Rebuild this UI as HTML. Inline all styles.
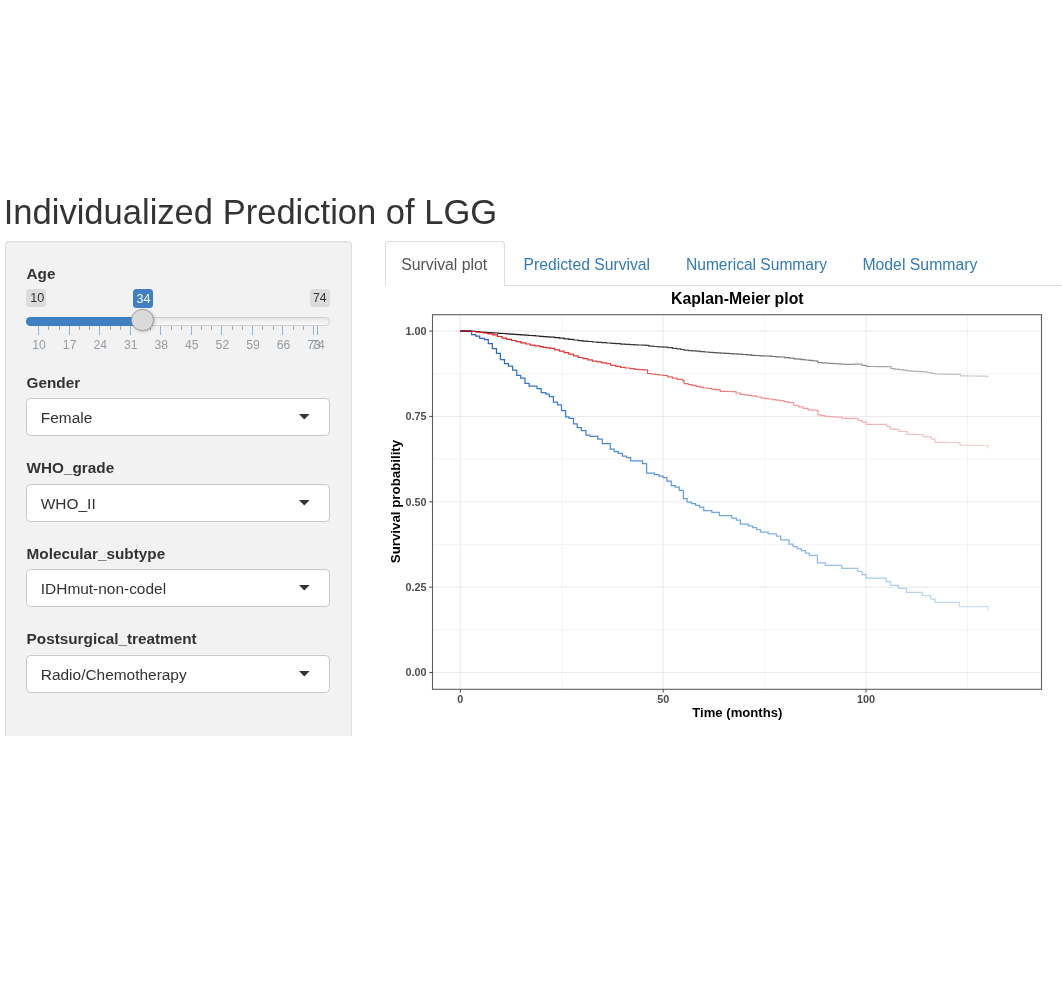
<!DOCTYPE html>
<html><head><meta charset="utf-8"><title>Individualized Prediction of LGG</title>
<style>
html,body{margin:0;padding:0;background:#fff;width:1062px;height:986px;overflow:hidden;position:relative}
body{will-change:transform;font-family:'Liberation Sans',sans-serif;}
div{font-family:'Liberation Sans',sans-serif;}
</style></head><body>
<div style="position:absolute;left:3.70px;top:194.65px;font-size:34.55px;line-height:34.55px;color:#333;font-weight:normal;white-space:nowrap;">Individualized Prediction of LGG</div>
<div style="position:absolute;left:5px;top:241px;width:345px;height:494px;background:#f2f2f2;border:1px solid #e0e0e0;border-bottom:none;border-radius:4px 4px 0 0;box-shadow:inset 0 1px 1px rgba(0,0,0,.05)"></div>
<div style="position:absolute;left:26.50px;top:265.75px;font-size:15.3px;line-height:15.3px;color:#333;font-weight:bold;white-space:nowrap;">Age</div>
<div style="position:absolute;left:26.60px;top:374.95px;font-size:15.3px;line-height:15.3px;color:#333;font-weight:bold;white-space:nowrap;">Gender</div>
<div style="position:absolute;left:26.3px;top:398.1px;width:301.3px;height:35.6px;background:#fff;border:1px solid #c8c8c8;border-radius:4.5px"></div>
<div style="position:absolute;left:40.80px;top:409.82px;font-size:15.45px;line-height:15.45px;color:#333;font-weight:normal;white-space:nowrap;">Female</div>
<svg style="position:absolute;left:299px;top:413.7px" width="11" height="6"><path d="M0 0H10.6L5.3 5.5Z" fill="#333"/></svg>
<div style="position:absolute;left:26.60px;top:459.65px;font-size:15.3px;line-height:15.3px;color:#333;font-weight:bold;white-space:nowrap;">WHO_grade</div>
<div style="position:absolute;left:26.3px;top:484.0px;width:301.3px;height:35.6px;background:#fff;border:1px solid #c8c8c8;border-radius:4.5px"></div>
<div style="position:absolute;left:40.80px;top:495.72px;font-size:15.45px;line-height:15.45px;color:#333;font-weight:normal;white-space:nowrap;">WHO_II</div>
<svg style="position:absolute;left:299px;top:499.6px" width="11" height="6"><path d="M0 0H10.6L5.3 5.5Z" fill="#333"/></svg>
<div style="position:absolute;left:26.60px;top:546.25px;font-size:15.3px;line-height:15.3px;color:#333;font-weight:bold;white-space:nowrap;">Molecular_subtype</div>
<div style="position:absolute;left:26.3px;top:569.4px;width:301.3px;height:35.6px;background:#fff;border:1px solid #c8c8c8;border-radius:4.5px"></div>
<div style="position:absolute;left:40.80px;top:581.12px;font-size:15.45px;line-height:15.45px;color:#333;font-weight:normal;white-space:nowrap;">IDHmut-non-codel</div>
<svg style="position:absolute;left:299px;top:585.0px" width="11" height="6"><path d="M0 0H10.6L5.3 5.5Z" fill="#333"/></svg>
<div style="position:absolute;left:26.60px;top:630.95px;font-size:15.3px;line-height:15.3px;color:#333;font-weight:bold;white-space:nowrap;">Postsurgical_treatment</div>
<div style="position:absolute;left:26.3px;top:655.1px;width:301.3px;height:35.6px;background:#fff;border:1px solid #c8c8c8;border-radius:4.5px"></div>
<div style="position:absolute;left:40.80px;top:666.82px;font-size:15.45px;line-height:15.45px;color:#333;font-weight:normal;white-space:nowrap;">Radio/Chemotherapy</div>
<svg style="position:absolute;left:299px;top:670.7px" width="11" height="6"><path d="M0 0H10.6L5.3 5.5Z" fill="#333"/></svg>
<div style="position:absolute;left:26.2px;top:288.9px;width:19.8px;height:17.9px;background:#dcdcdc;border-radius:3.5px"></div>
<div style="position:absolute;left:30.30px;top:291.93px;font-size:12.6px;line-height:12.6px;color:#333;font-weight:normal;white-space:nowrap;">10</div>

<div style="position:absolute;left:309.9px;top:288.9px;width:19.9px;height:17.9px;background:#dcdcdc;border-radius:3.5px"></div>
<div style="position:absolute;left:313.00px;top:292.27px;font-size:12.2px;line-height:12.2px;color:#333;font-weight:normal;white-space:nowrap;">74</div>

<div style="position:absolute;left:25.7px;top:317px;width:302px;height:7px;background:linear-gradient(#e6e6e6,#fafafa);border:1px solid #cfcfcf;border-radius:5px"></div>
<div style="position:absolute;left:25.7px;top:317px;width:120px;height:9px;background:#3f7fc2;border-radius:5px 0 0 5px"></div>
<div style="position:absolute;left:38px;top:326px;width:1px;height:9px;background:#8fb3dc"></div>
<div style="position:absolute;left:19.10px;top:339.27px;width:40px;text-align:center;font-size:12.2px;line-height:12.2px;color:#939ca4">10</div>
<div style="position:absolute;left:48px;top:326px;width:1px;height:4.4px;background:#a9a9a9"></div>
<div style="position:absolute;left:59px;top:326px;width:1px;height:4.4px;background:#a9a9a9"></div>
<div style="position:absolute;left:69px;top:326px;width:1px;height:9px;background:#8fb3dc"></div>
<div style="position:absolute;left:49.65px;top:339.27px;width:40px;text-align:center;font-size:12.2px;line-height:12.2px;color:#939ca4">17</div>
<div style="position:absolute;left:79px;top:326px;width:1px;height:4.4px;background:#a9a9a9"></div>
<div style="position:absolute;left:89px;top:326px;width:1px;height:4.4px;background:#a9a9a9"></div>
<div style="position:absolute;left:99px;top:326px;width:1px;height:9px;background:#8fb3dc"></div>
<div style="position:absolute;left:80.20px;top:339.27px;width:40px;text-align:center;font-size:12.2px;line-height:12.2px;color:#939ca4">24</div>
<div style="position:absolute;left:110px;top:326px;width:1px;height:4.4px;background:#a9a9a9"></div>
<div style="position:absolute;left:120px;top:326px;width:1px;height:4.4px;background:#a9a9a9"></div>
<div style="position:absolute;left:130px;top:326px;width:1px;height:9px;background:#8fb3dc"></div>
<div style="position:absolute;left:110.75px;top:339.27px;width:40px;text-align:center;font-size:12.2px;line-height:12.2px;color:#939ca4">31</div>
<div style="position:absolute;left:140px;top:326px;width:1px;height:4.4px;background:#a9a9a9"></div>
<div style="position:absolute;left:150px;top:326px;width:1px;height:4.4px;background:#a9a9a9"></div>
<div style="position:absolute;left:160px;top:326px;width:1px;height:9px;background:#8fb3dc"></div>
<div style="position:absolute;left:141.30px;top:339.27px;width:40px;text-align:center;font-size:12.2px;line-height:12.2px;color:#939ca4">38</div>
<div style="position:absolute;left:171px;top:326px;width:1px;height:4.4px;background:#a9a9a9"></div>
<div style="position:absolute;left:181px;top:326px;width:1px;height:4.4px;background:#a9a9a9"></div>
<div style="position:absolute;left:191px;top:326px;width:1px;height:9px;background:#8fb3dc"></div>
<div style="position:absolute;left:171.85px;top:339.27px;width:40px;text-align:center;font-size:12.2px;line-height:12.2px;color:#939ca4">45</div>
<div style="position:absolute;left:201px;top:326px;width:1px;height:4.4px;background:#a9a9a9"></div>
<div style="position:absolute;left:211px;top:326px;width:1px;height:4.4px;background:#a9a9a9"></div>
<div style="position:absolute;left:221px;top:326px;width:1px;height:9px;background:#8fb3dc"></div>
<div style="position:absolute;left:202.40px;top:339.27px;width:40px;text-align:center;font-size:12.2px;line-height:12.2px;color:#939ca4">52</div>
<div style="position:absolute;left:232px;top:326px;width:1px;height:4.4px;background:#a9a9a9"></div>
<div style="position:absolute;left:242px;top:326px;width:1px;height:4.4px;background:#a9a9a9"></div>
<div style="position:absolute;left:252px;top:326px;width:1px;height:9px;background:#8fb3dc"></div>
<div style="position:absolute;left:232.95px;top:339.27px;width:40px;text-align:center;font-size:12.2px;line-height:12.2px;color:#939ca4">59</div>
<div style="position:absolute;left:262px;top:326px;width:1px;height:4.4px;background:#a9a9a9"></div>
<div style="position:absolute;left:273px;top:326px;width:1px;height:4.4px;background:#a9a9a9"></div>
<div style="position:absolute;left:282px;top:326px;width:1px;height:9px;background:#8fb3dc"></div>
<div style="position:absolute;left:263.50px;top:339.27px;width:40px;text-align:center;font-size:12.2px;line-height:12.2px;color:#939ca4">66</div>
<div style="position:absolute;left:293px;top:326px;width:1px;height:4.4px;background:#a9a9a9"></div>
<div style="position:absolute;left:303px;top:326px;width:1px;height:4.4px;background:#a9a9a9"></div>
<div style="position:absolute;left:313px;top:326px;width:1px;height:9px;background:#8fb3dc"></div>
<div style="position:absolute;left:294.05px;top:339.27px;width:40px;text-align:center;font-size:12.2px;line-height:12.2px;color:#939ca4">73</div>
<div style="position:absolute;left:317px;top:326px;width:1px;height:9px;background:#8fb3dc"></div>
<div style="position:absolute;left:298.00px;top:339.27px;width:40px;text-align:center;font-size:12.2px;line-height:12.2px;color:#939ca4">74</div>
<div style="position:absolute;left:132.9px;top:288.8px;width:20.1px;height:19px;background:#3f7fc2;border-radius:3.5px"></div>
<div style="position:absolute;left:136.50px;top:292.63px;font-size:12.6px;line-height:12.6px;color:#fff;font-weight:normal;white-space:nowrap;">34</div>

<div style="position:absolute;left:131.3px;top:308.6px;width:20.9px;height:20.9px;background:#dadada;border:1px solid #a0a0a0;border-radius:50%;box-shadow:1px 1px 3px rgba(0,0,0,.2)"></div>
<div style="position:absolute;left:385px;top:285px;width:677px;height:1px;background:#ddd"></div>
<div style="position:absolute;left:385px;top:241px;width:118px;height:44px;background:#fff;border:1px solid #ddd;border-bottom:none;border-radius:4px 4px 0 0"></div>
<div style="position:absolute;left:401.20px;top:256.53px;font-size:15.8px;line-height:15.8px;color:#555;font-weight:normal;white-space:nowrap;">Survival plot</div>
<div style="position:absolute;left:523.60px;top:256.61px;font-size:15.7px;line-height:15.7px;color:#337ab7;font-weight:normal;white-space:nowrap;">Predicted Survival</div>
<div style="position:absolute;left:686.00px;top:256.72px;font-size:15.57px;line-height:15.57px;color:#337ab7;font-weight:normal;white-space:nowrap;">Numerical Summary</div>
<div style="position:absolute;left:862.40px;top:256.53px;font-size:15.8px;line-height:15.8px;color:#337ab7;font-weight:normal;white-space:nowrap;">Model Summary</div>
<svg style="position:absolute;left:0;top:0" width="1062" height="986">
<defs>
<linearGradient id="gk" gradientUnits="userSpaceOnUse" x1="460" y1="0" x2="990" y2="0"><stop offset="0" stop-color="#1a1212"/><stop offset="0.25" stop-color="#352b2b"/><stop offset="0.55" stop-color="#6a6262"/><stop offset="0.8" stop-color="#a8a4a4"/><stop offset="1" stop-color="#d0cece"/></linearGradient>
<linearGradient id="gr" gradientUnits="userSpaceOnUse" x1="460" y1="0" x2="990" y2="0"><stop offset="0" stop-color="#e01818"/><stop offset="0.25" stop-color="#e23a3a"/><stop offset="0.55" stop-color="#ee8e8e"/><stop offset="0.8" stop-color="#f4b6b6"/><stop offset="1" stop-color="#fad4d4"/></linearGradient>
<linearGradient id="gb" gradientUnits="userSpaceOnUse" x1="460" y1="0" x2="990" y2="0"><stop offset="0" stop-color="#1d5fca"/><stop offset="0.3" stop-color="#4e8ed9"/><stop offset="0.6" stop-color="#80b0e6"/><stop offset="0.8" stop-color="#aecbee"/><stop offset="1" stop-color="#d0e2f6"/></linearGradient>
</defs>
<line x1="432.5" x2="1041.5" y1="629.83" y2="629.83" stroke="#ebebeb" stroke-width="0.55"/>
<line x1="432.5" x2="1041.5" y1="544.48" y2="544.48" stroke="#ebebeb" stroke-width="0.55"/>
<line x1="432.5" x2="1041.5" y1="459.12" y2="459.12" stroke="#ebebeb" stroke-width="0.55"/>
<line x1="432.5" x2="1041.5" y1="373.78" y2="373.78" stroke="#ebebeb" stroke-width="0.55"/>
<line y1="314.7" y2="689.3" x1="561.74" x2="561.74" stroke="#ebebeb" stroke-width="0.55"/>
<line y1="314.7" y2="689.3" x1="764.62" x2="764.62" stroke="#ebebeb" stroke-width="0.55"/>
<line y1="314.7" y2="689.3" x1="967.50" x2="967.50" stroke="#ebebeb" stroke-width="0.55"/>
<line x1="432.5" x2="1041.5" y1="672.50" y2="672.50" stroke="#ebebeb" stroke-width="1.1"/>
<line x1="432.5" x2="1041.5" y1="587.15" y2="587.15" stroke="#ebebeb" stroke-width="1.1"/>
<line x1="432.5" x2="1041.5" y1="501.80" y2="501.80" stroke="#ebebeb" stroke-width="1.1"/>
<line x1="432.5" x2="1041.5" y1="416.45" y2="416.45" stroke="#ebebeb" stroke-width="1.1"/>
<line x1="432.5" x2="1041.5" y1="331.10" y2="331.10" stroke="#ebebeb" stroke-width="1.1"/>
<line y1="314.7" y2="689.3" x1="460.30" x2="460.30" stroke="#ebebeb" stroke-width="1.1"/>
<line y1="314.7" y2="689.3" x1="663.18" x2="663.18" stroke="#ebebeb" stroke-width="1.1"/>
<line y1="314.7" y2="689.3" x1="866.06" x2="866.06" stroke="#ebebeb" stroke-width="1.1"/>
<path d="M460.3 331.1H471.6V334.6H475.7V336.0H479.7V338.4H484.6V339.6H488.3V343.5H492.3V348.5H496.5V353.4H500.4V359.7H504.5V363.5H508.5V366.2H512.6V370.0H516.7V375.3H520.7V378.1H525.0V383.3H529.1V386.0H537.0V388.5H541.2V392.7H545.8V394.0H549.3V396.5H553.4V402.2H557.5V404.9H561.5V410.5H565.6V416.8H569.1V418.4H573.5V423.9H577.2V427.7H581.3V430.6H585.9V435.0H590.0V436.4H597.8V439.1H602.3V443.5H610.2V449.0H614.2V451.6H618.3V453.3H622.4V456.1H626.6V457.7H630.6V460.8H642.5V463.5H646.6V473.0H654.5V474.5H659.0V476.0H663.1V477.7H666.9V481.1H671.2V485.6H675.3V487.2H679.3V490.4H683.4V498.6H687.1V502.1H691.5V503.7H695.6V505.4H699.6V507.1H703.7V510.5H711.8V512.3H719.4V515.5H731.7V518.0H736.3V520.1H740.4V524.0H748.3V525.9H752.5V527.7H756.6V529.7H760.6V532.0H768.2V533.8H776.4V536.0H780.7V539.9H789.0V544.1H793.1V546.5H797.2V548.5H801.2V550.7H805.5V553.0H809.3V555.4H817.4V562.8H825.3V565.4H841.7V568.4H857.7V571.4H862.0V574.5H866.1V578.0H886.3V581.6H890.5V585.3H898.5V588.4H906.5V592.3H922.6V595.5H930.7V599.2H935.1V602.4H959.4V606.5H987.8V610.2" fill="none" stroke="url(#gb)" stroke-width="1.25"/>
<path d="M460.3 331.1H464.2V331.2H468.1V331.2H472.0V331.3H475.7V331.6H479.5V332.0H483.2V332.3H487.0V332.5H490.8V332.8H494.5V333.0H498.3V333.3H502.1V333.5H505.9V333.8H509.6V334.1H513.4V334.3H517.1V334.6H520.9V334.9H524.7V335.2H528.4V335.5H532.2V335.7H535.9V336.0H539.7V336.3H543.1V336.6H546.6V336.8H550.0V337.1H554.7V337.7H559.4V338.2H564.1V338.8H568.8V339.4H573.5V340.0H578.2V340.6H582.9V341.1H587.7V341.5H592.4V342.0H597.1V342.3H601.8V342.7H606.5V343.0H611.2V343.4H615.9V343.7H620.6V344.1H625.3V344.3H630.0V344.6H634.7V344.8H638.5V345.0H642.2V345.1H646.0V345.3H648.9V346.2H653.6V346.5H658.3V346.9H663.0V347.2H667.7V347.7H672.4V348.3H677.1V348.8H680.7V349.5H684.2V350.2H688.2V350.6H692.1V350.9H696.0V351.2H700.0V351.6H704.5V352.0H709.1V352.4H712.9V352.6H716.6V352.9H720.4V353.1H724.6V353.4H728.9V353.6H733.1V353.9H737.4V354.1H742.1V354.5H746.8V354.9H751.5V355.3H755.7V355.5H760.0V355.8H764.2V356.0H768.1V356.2H772.0V356.5H775.8V356.8H779.7V357.0H784.4V357.6H789.2V358.2H793.9V358.8H797.7V359.2H801.4V359.6H805.2V360.0H809.0V360.4H812.7V360.8H816.5V361.2H817.9V362.6H821.8V362.8H825.6V363.1H829.5V363.3H833.4V363.6H837.3V363.8H841.1V364.1H845.0V364.3H849.2V364.3H853.3V364.2H857.5V364.2H861.9V365.3H866.3V366.4H870.1V366.5H873.9V366.5H877.7V366.6H881.5V366.6H885.3V366.7H891.1V368.6H894.8V369.1H898.4V369.6H902.8V370.2H907.2V370.8H911.2V371.1H915.2V371.3H919.2V371.6H923.2V371.8H927.1V372.5H931.0V373.3H934.9V374.0H939.0V374.1H943.2V374.1H947.3V374.2H951.4V374.3H955.6V374.3H959.7V374.4H960.4V375.9H964.3V375.9H968.2V376.0H972.1V376.0H976.0V376.1H979.9V376.1H983.8V376.2H987.7V376.2V377.4" fill="none" stroke="url(#gk)" stroke-width="1.2"/>
<path d="M460.3 331.1H464.2V331.2H468.1V331.4H472.0V331.5H475.7V332.0H479.5V332.5H483.2V333.0H487.9V333.9H492.7V334.9H497.4V336.5H502.1V338.2H506.8V339.4H511.5V340.5H516.2V341.7H520.9V342.9H525.6V344.0H530.3V345.2H535.0V345.9H539.7V346.7H543.1V347.3H546.6V347.8H550.0V348.4H554.7V349.8H559.4V351.2H564.1V352.6H568.8V354.2H573.5V355.9H578.2V357.5H582.9V358.7H587.7V359.9H592.4V361.1H597.1V361.9H601.8V362.8H606.5V363.6H610.7V365.3H615.7V366.4H620.6V367.4H625.3V368.0H630.0V368.7H634.7V369.3H639.0V369.6H643.2V369.8H647.5V373.5H651.4V374.0H655.2V374.5H659.1V375.0H663.0V375.5H667.7V376.8H672.4V378.1H677.1V379.4H682.8V380.8H684.2V383.7H688.2V384.6H692.1V385.4H696.0V386.3H700.0V387.2H703.5V388.0H707.5V388.5H711.6V389.1H715.7V389.6H719.7V390.1H720.4V391.3H724.2V391.4H727.9V391.5H731.7V391.6H736.0V393.0H740.2V394.4H744.0V394.9H747.7V395.3H751.5V395.8H756.5V397.0H761.4V398.2H764.9V398.6H768.4V399.0H772.2V399.6H775.9V400.1H779.7V400.7H784.0V401.6H788.2V402.6H793.9V405.3H798.6V406.8H803.3V408.4H808.0V409.9H812.2V410.2H816.5V410.6H817.9V414.9H821.4V415.6H824.9V416.3H829.1V416.6H833.4V416.9H837.6V417.1H841.9V417.4H842.2V418.2H846.0V418.3H849.9V418.4H853.7V418.4H857.5V418.5H858.2V420.3H861.9V422.2H866.3V424.3H870.3V424.3H874.3V424.3H878.4V424.3H882.4V424.3H886.4V424.3H886.7V426.5H890.4V429.2H894.4V429.4H898.4V429.5H899.1V431.4H902.8V431.5H906.4V431.6H907.2V434.3H911.0V434.4H914.9V434.5H918.7V434.5H922.5V434.6H923.2V436.8H926.9V436.9H930.5V437.0H931.2V439.2H934.9V442.3H939.0V442.4H943.2V442.4H947.3V442.5H951.4V442.5H955.6V442.6H959.7V442.6H960.0V445.2H964.0V445.2H967.9V445.3H971.9V445.3H975.8V445.4H979.8V445.4H983.7V445.5H987.7V445.5V448.4" fill="none" stroke="url(#gr)" stroke-width="1.2"/>
<path d="M460.3 331.1H471.6" fill="none" stroke="#6e1e2c" stroke-width="1.3"/>
<rect x="432.5" y="314.7" width="609.0" height="374.59999999999997" fill="none" stroke="#5e5e5e" stroke-width="1.1"/>
<line x1="429.30" x2="432.5" y1="672.50" y2="672.50" stroke="#555" stroke-width="1.1"/>
<line x1="429.30" x2="432.5" y1="587.15" y2="587.15" stroke="#555" stroke-width="1.1"/>
<line x1="429.30" x2="432.5" y1="501.80" y2="501.80" stroke="#555" stroke-width="1.1"/>
<line x1="429.30" x2="432.5" y1="416.45" y2="416.45" stroke="#555" stroke-width="1.1"/>
<line x1="429.30" x2="432.5" y1="331.10" y2="331.10" stroke="#555" stroke-width="1.1"/>
<line y1="689.3" y2="692.50" x1="460.30" x2="460.30" stroke="#555" stroke-width="1.1"/>
<line y1="689.3" y2="692.50" x1="663.18" x2="663.18" stroke="#555" stroke-width="1.1"/>
<line y1="689.3" y2="692.50" x1="866.06" x2="866.06" stroke="#555" stroke-width="1.1"/>
<text x="426.4" y="676.20" text-anchor="end" font-family="Liberation Sans" font-weight="bold" font-size="10.8" fill="#4d4d4d">0.00</text>
<text x="426.4" y="590.85" text-anchor="end" font-family="Liberation Sans" font-weight="bold" font-size="10.8" fill="#4d4d4d">0.25</text>
<text x="426.4" y="505.50" text-anchor="end" font-family="Liberation Sans" font-weight="bold" font-size="10.8" fill="#4d4d4d">0.50</text>
<text x="426.4" y="420.15" text-anchor="end" font-family="Liberation Sans" font-weight="bold" font-size="10.8" fill="#4d4d4d">0.75</text>
<text x="426.4" y="334.80" text-anchor="end" font-family="Liberation Sans" font-weight="bold" font-size="10.8" fill="#4d4d4d">1.00</text>
<text x="460.30" y="702.9" text-anchor="middle" font-family="Liberation Sans" font-weight="bold" font-size="10.8" fill="#4d4d4d">0</text>
<text x="663.18" y="702.9" text-anchor="middle" font-family="Liberation Sans" font-weight="bold" font-size="10.8" fill="#4d4d4d">50</text>
<text x="866.06" y="702.9" text-anchor="middle" font-family="Liberation Sans" font-weight="bold" font-size="10.8" fill="#4d4d4d">100</text>
<text x="737.3" y="303.8" text-anchor="middle" font-family="Liberation Sans" font-weight="bold" font-size="15.8" fill="#000">Kaplan-Meier plot</text>
<text x="737.3" y="717.1" text-anchor="middle" font-family="Liberation Sans" font-weight="bold" font-size="13.1" fill="#000">Time (months)</text>
<text transform="translate(400.2,501.5) rotate(-90)" x="0" y="0" text-anchor="middle" font-family="Liberation Sans" font-weight="bold" font-size="13.3" fill="#000">Survival probability</text>
</svg>

</body></html>
